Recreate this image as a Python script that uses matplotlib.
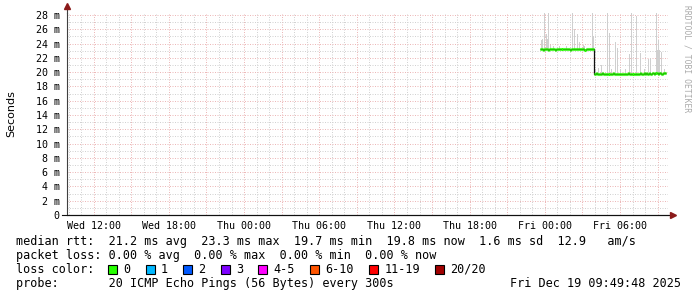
import matplotlib
matplotlib.use("Agg")
import matplotlib.pyplot as plt
import matplotlib.ticker as mticker
from matplotlib.patches import Rectangle
import numpy as np

W, H = 697, 297

# time in hours counted from Wed 00:00
t_start, t_end = 9.83, 57.83
t0 = 47.58          # first sample with data (Thu ~23:35)
step = 5 / 60.0     # 300s

# median rtt (ms) per 300s sample
med1 = [23.3, 23.3, 23.2, 23.1, 23.2, 23.2, 23.2, 23.2, 23.1, 23.2, 23.2, 23.2,
        23.2, 23.2, 23.2, 23.1, 23.2, 23.2, 23.2, 23.2, 23.2, 23.3, 23.2, 23.2,
        23.2, 23.2, 23.2, 23.2, 23.2, 23.1, 23.2, 23.2, 23.2, 23.2, 23.2, 23.2,
        23.2, 23.2, 23.2, 23.2, 23.3, 23.2, 23.2, 23.1, 23.2, 23.2, 23.2, 23.2,
        23.2, 23.2, 23.2, 23.2]
med2 = [19.8, 19.8, 19.9, 19.8, 19.8, 19.7, 19.8, 19.8, 19.9, 19.8, 19.7, 19.8,
        19.8, 19.8, 19.7, 19.8, 19.8, 19.8, 19.9, 19.8, 19.8, 19.8, 19.7, 19.8,
        19.8, 19.8, 19.8, 19.7, 19.7, 19.8, 19.8, 19.8, 19.8, 19.9, 19.8, 19.8,
        19.8, 19.7, 19.8, 19.8, 19.8, 19.8, 19.8, 19.8, 19.9, 19.8, 19.8, 19.8,
        19.9, 19.8, 19.9, 19.8, 19.8, 19.9, 19.8, 19.8, 19.9, 19.9, 19.8, 19.9,
        19.9, 19.8, 19.9, 19.9, 19.8, 19.8, 19.9, 19.9, 19.9]

# smoke spikes (time in hours, top of smoke in ms)
spike_t = [47.68, 47.76, 47.92, 48.08, 48.16, 48.24, 48.40, 48.64, 49.12, 49.68,
           50.16, 50.32, 50.56, 50.72, 51.04, 51.12, 51.76, 51.84,
           52.00, 52.24, 52.48, 52.96, 53.12, 53.28, 53.60, 53.76, 54.00, 54.40,
           54.72, 54.88, 55.28, 55.60, 55.92, 56.24, 56.40, 56.88, 56.96, 57.04,
           57.12, 57.28, 57.52]
spike_top = [24.5, 24.7, 28.4, 25.4, 24.6, 28.4, 23.8, 23.6, 23.7, 23.6,
             28.4, 26.0, 25.3, 24.2, 23.8, 23.7, 28.4, 25.0,
             20.5, 20.6, 21.0, 28.4, 25.5, 20.4, 24.2, 23.4, 20.4, 20.4,
             22.5, 28.4, 27.8, 22.7, 20.5, 21.8, 22.0, 28.4, 23.1, 24.5,
             23.1, 22.8, 20.4]

xtick_hours = [12, 18, 24, 30, 36, 42, 48, 54]
xtick_labels = ["Wed 12:00", "Wed 18:00", "Thu 00:00", "Thu 06:00",
                "Thu 12:00", "Thu 18:00", "Fri 00:00", "Fri 06:00"]

loss_labels = ["0", "1", "2", "3", "4-5", "6-10", "11-19", "20/20"]
loss_colors = ["#26ff00", "#00b8ff", "#0059ff", "#7e00ff", "#ff00ff",
               "#ff5500", "#ff0000", "#a10000"]

legend_rows = [
    "median rtt:  21.2 ms avg  23.3 ms max  19.7 ms min  19.8 ms now  1.6 ms sd  12.9   am/s",
    "packet loss: 0.00 % avg  0.00 % max  0.00 % min  0.00 % now",
    "loss color:",
    "probe:       20 ICMP Echo Pings (56 Bytes) every 300s",
]
stamp = "Fri Dec 19 09:49:48 2025"

mono = "DejaVu Sans Mono"

fig = plt.figure(figsize=(W / 100, H / 100), dpi=100)
ax_left, ax_right = 66.5, 668
y0_px, ytop_px = 215, 12.5
ax = fig.add_axes([ax_left / W, (H - y0_px) / H, (ax_right - ax_left) / W,
                   (y0_px - ytop_px) / H])
ax.set_xlim(t_start, t_end)
ax.set_ylim(0, 28.35)

# grid like rrdtool: dotted, red major / gray minor
ax.xaxis.set_major_locator(mticker.MultipleLocator(3))
ax.xaxis.set_minor_locator(mticker.MultipleLocator(1))
ax.yaxis.set_major_locator(mticker.MultipleLocator(2))
ax.yaxis.set_minor_locator(mticker.MultipleLocator(1))
ax.grid(which="minor", color="#d2d2d2", lw=0.72, ls=(0, (1, 1.5)))
ax.grid(which="major", color="#ecb8b8", lw=0.72, ls=(0, (1, 1.5)))
ax.set_axisbelow(True)

ax.xaxis.set_major_formatter(mticker.FuncFormatter(
    lambda v, p: xtick_labels[xtick_hours.index(int(round(v)))]
    if int(round(v)) in xtick_hours else ""))
ax.yaxis.set_major_formatter(mticker.FuncFormatter(
    lambda v, p: "0" if abs(v) < 1e-9 else "%d m" % round(v)))
ax.tick_params(which="both", length=0)
ax.tick_params(axis="y", pad=5, labelsize=7.2)
ax.tick_params(axis="x", pad=4, labelsize=7.2)
for lab in ax.get_xticklabels() + ax.get_yticklabels():
    lab.set_family(mono)

for s in ["top", "right"]:
    ax.spines[s].set_visible(False)
ax.spines["left"].set_color("#404040")
ax.spines["bottom"].set_color("#101010")
ax.spines["left"].set_linewidth(0.8)
ax.spines["bottom"].set_linewidth(0.8)

# axis extensions and arrows
ax.plot([-4.5 / 601.5, 1.006], [0, 0], transform=ax.transAxes, color="#101010",
        lw=0.8, clip_on=False)
ax.plot([0, 0], [1, 1.02], transform=ax.transAxes, color="#404040",
        lw=0.8, clip_on=False)
ax.plot([1.009], [0], marker=">", ms=4, color="#8b1a1a", transform=ax.transAxes,
        clip_on=False)
ax.plot([0], [1.03], marker="^", ms=4, color="#8b1a1a", transform=ax.transAxes,
        clip_on=False)

med = np.array(med1 + med2)
n = len(med)
edges = t0 + step * np.arange(n + 1)

# smoke
for t, top in zip(spike_t, spike_top):
    i = min(max(int(round((t - t0) / step)), 0), n - 1)
    ax.bar(t, top - med[i], bottom=med[i], width=step * 1.2, color="#cfcfcf",
           lw=0, align="edge", zorder=2)

# median: thin dark step line, then colored segments on top
ax.stairs(med, edges, color="#101010", lw=0.9, baseline=None, zorder=3)
ax.hlines(med, edges[:-1], edges[1:], color=loss_colors[0], lw=2.2,
          zorder=4, capstyle="butt")

# labels
fig.text(11 / W, 1 - 114 / H, "Seconds", rotation=90, ha="center",
         va="center", fontsize=8, family="DejaVu Sans")
fig.text(687 / W, 1 - 5 / H, "RRDTOOL / TOBI OETIKER", rotation=270,
         ha="center", va="top", fontsize=5.8, family=mono, color="#aaaaaa")

cw = 7.12
base_y = [245, 259, 273, 287]
for row, yb in zip(legend_rows, base_y):
    fig.text(16 / W, 1 - yb / H, row, ha="left", va="baseline",
             fontsize=8.5, family=mono)
fig.text(681 / W, 1 - 287 / H, stamp, ha="right", va="baseline",
         fontsize=8.5, family=mono)

# loss colour boxes
bx = 108.0
for lab, col in zip(loss_labels, loss_colors):
    fig.patches.append(Rectangle((bx / W, 1 - 274 / H), 9 / W, 9 / H,
                                 transform=fig.transFigure, facecolor=col,
                                 edgecolor="black", lw=0.8))
    fig.text((bx + 15) / W, 1 - 273 / H, lab, ha="left", va="baseline",
             fontsize=8.5, family=mono)
    bx = bx + 15 + len(lab) * cw + 15.5

fig.savefig("out.png", dpi=100)
